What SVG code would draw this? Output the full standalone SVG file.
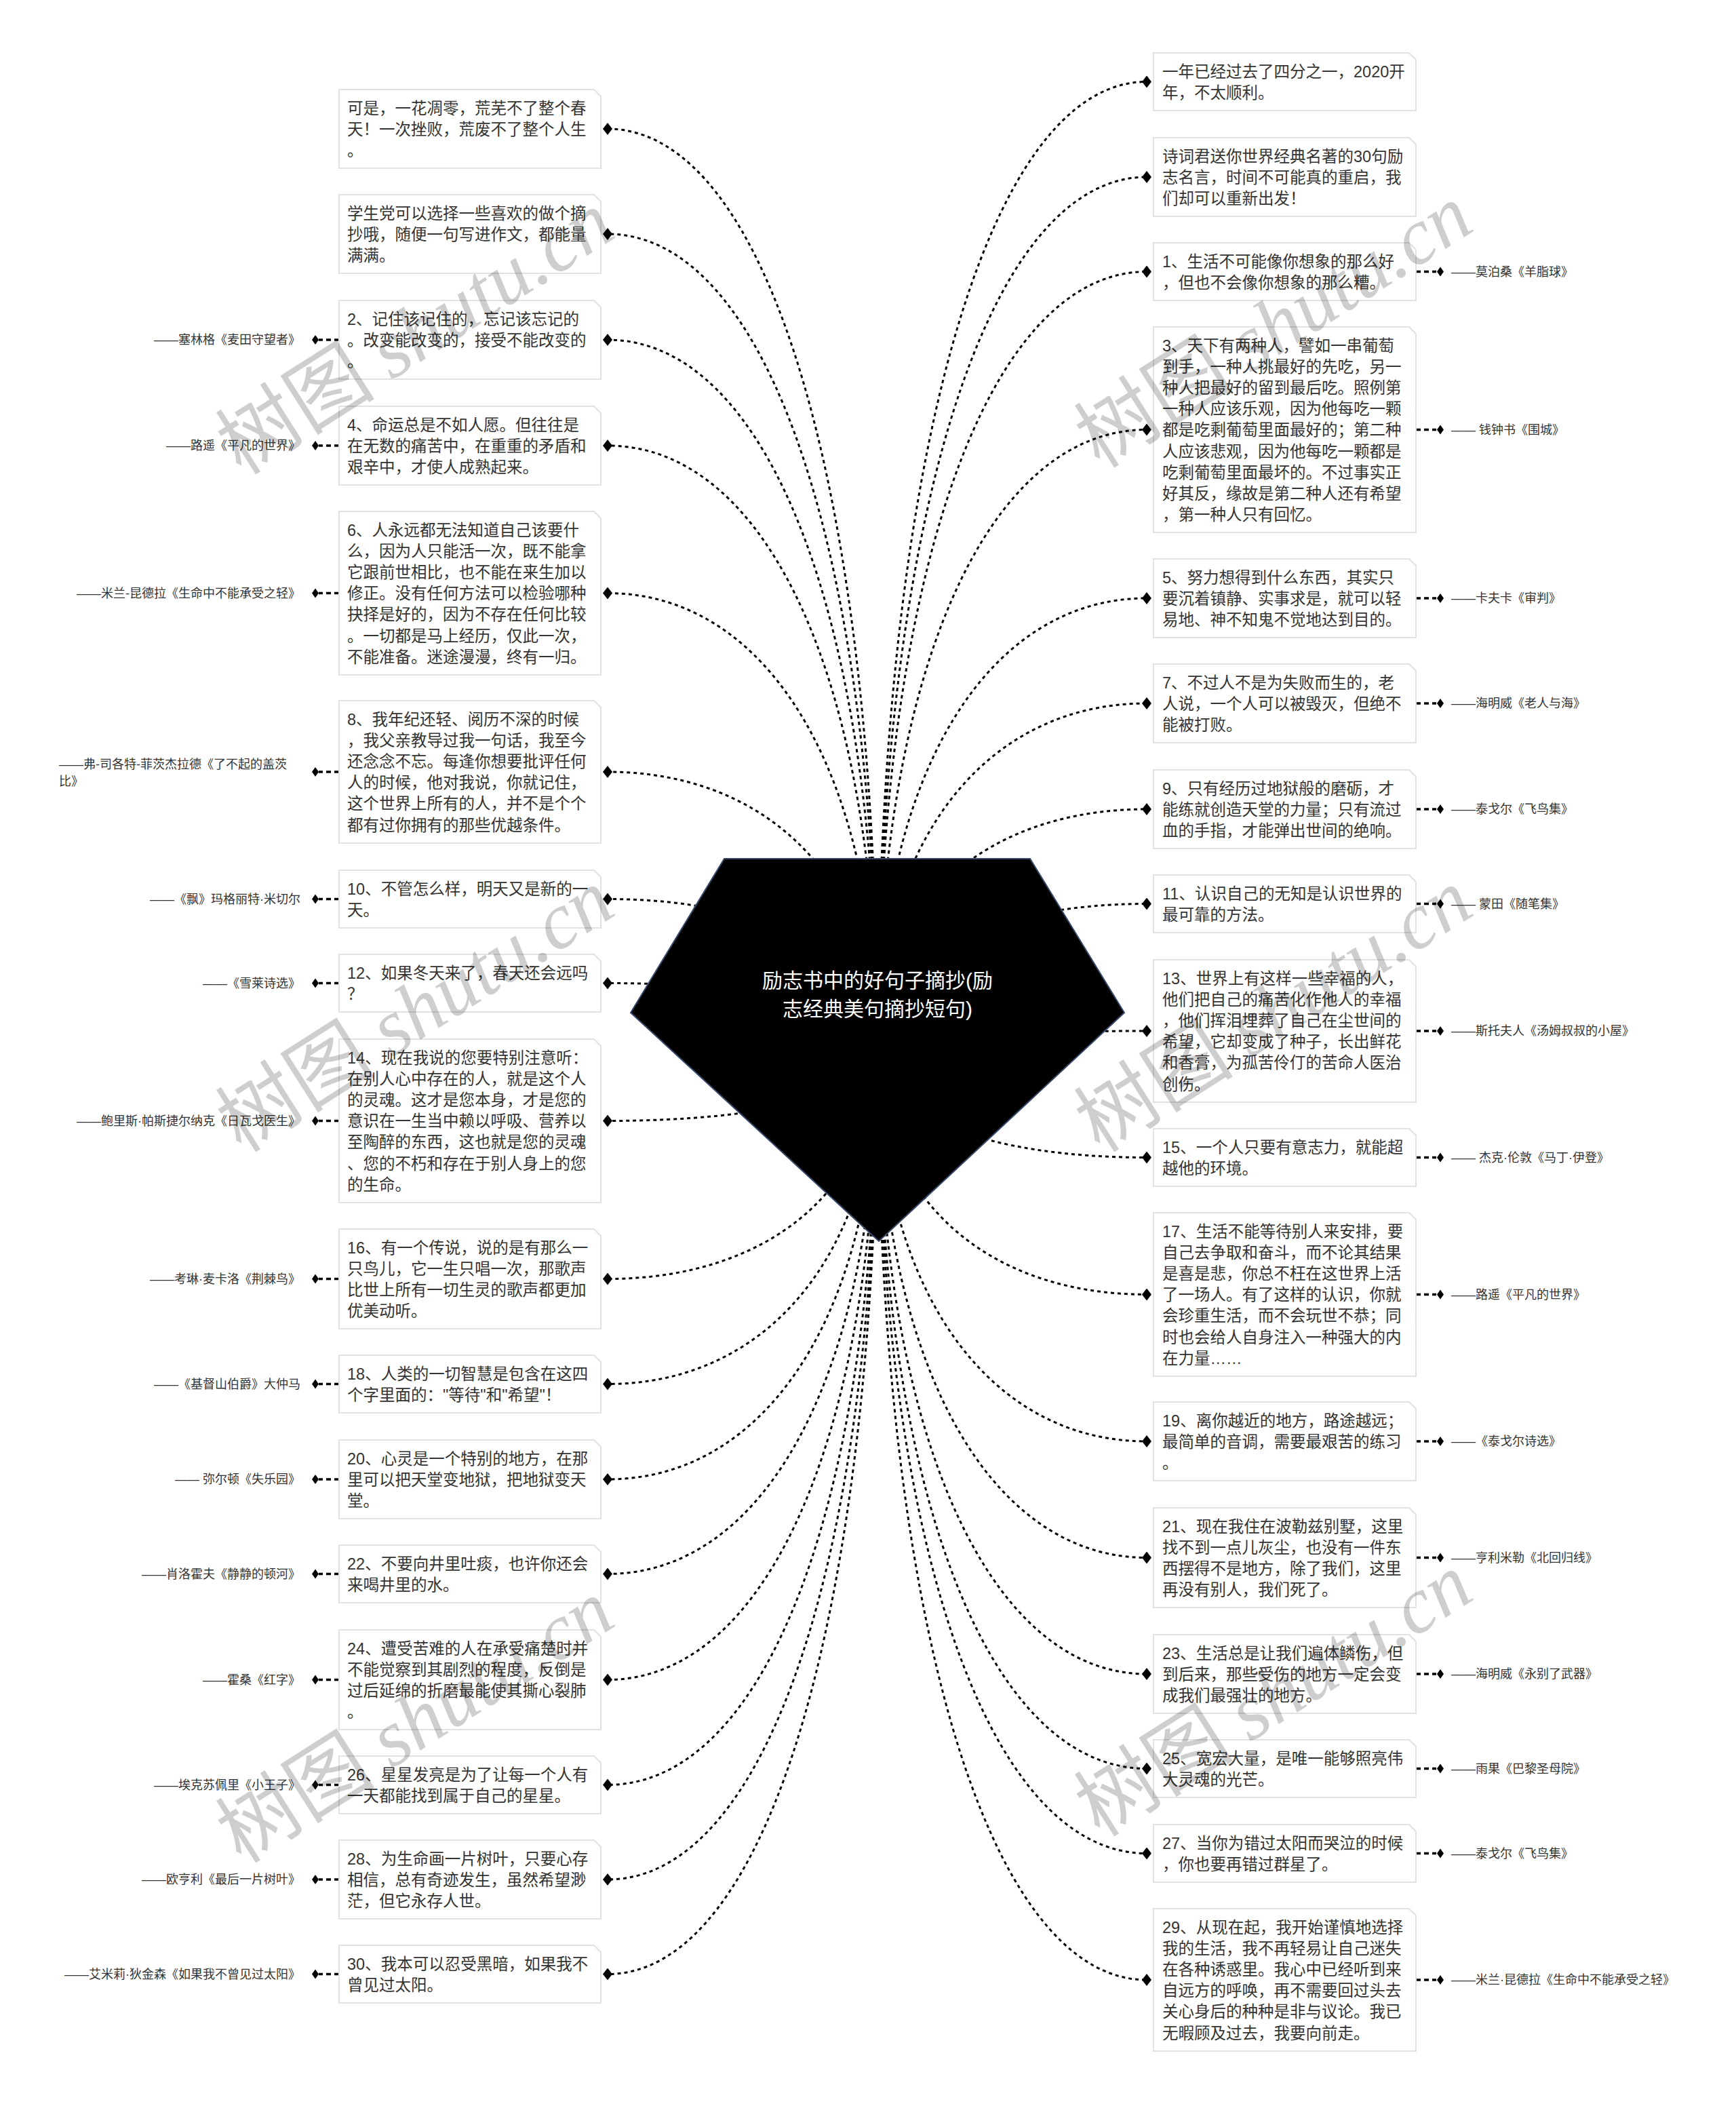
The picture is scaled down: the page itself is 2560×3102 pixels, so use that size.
<svg xmlns="http://www.w3.org/2000/svg" width="2560" height="3102" viewBox="0 0 2560 3102">
<style>
.box{fill:#fff;stroke:#e2e2e2;stroke-width:2}
.t{font-family:"Liberation Sans","Noto Sans CJK SC",sans-serif;font-size:23.5px;fill:#333}
.lb{font-family:"Liberation Sans","Noto Sans CJK SC",sans-serif;font-size:18px;fill:#333}
.lbr{font-family:"Liberation Sans","Noto Sans CJK SC",sans-serif;font-size:18px;fill:#333;text-anchor:end}
.c{fill:none;stroke:#000;stroke-width:3;stroke-dasharray:5 5}
.s{fill:none;stroke:#000;stroke-width:3.5;stroke-dasharray:7 5}
.d{fill:#000}
.wm{font-size:118px;fill:#000;opacity:0.19}
</style>
<defs>
<marker id="dm" viewBox="-7 -9 14 18" markerWidth="14" markerHeight="18" markerUnits="userSpaceOnUse" refX="0" refY="0" orient="auto"><path d="M-7,0 L0,-9 L7,0 L0,9 Z" fill="#000"/></marker>
<path id="sd" d="M-5,0 L0,-7 L5,0 L0,7 Z"/>
</defs>
<rect width="2560" height="3102" fill="#fff"/>

<g id="connectors">
<path class="c" marker-end="url(#dm)" d="M1294,1548 C1294,733 1135,190 896,190"/>
<path class="c" marker-end="url(#dm)" d="M1294,1548 C1294,826 1135,345 896,345"/>
<path class="c" marker-end="url(#dm)" d="M1294,1548 C1294,920 1135,501 896,501"/>
<path class="c" marker-end="url(#dm)" d="M1294,1548 C1294,1013 1135,657 896,657"/>
<path class="c" marker-end="url(#dm)" d="M1294,1548 C1294,1144 1135,874.5 896,874.5"/>
<path class="c" marker-end="url(#dm)" d="M1294,1548 C1294,1302 1135,1138 896,1138"/>
<path class="c" marker-end="url(#dm)" d="M1294,1548 C1294,1414.5 1135,1325.5 896,1325.5"/>
<path class="c" marker-end="url(#dm)" d="M1294,1548 C1294,1489 1135,1449.5 896,1449.5"/>
<path class="c" marker-end="url(#dm)" d="M1294,1548 C1294,1611 1135,1652.5 896,1652.5"/>
<path class="c" marker-end="url(#dm)" d="M1294,1548 C1294,1750.5 1135,1885.5 896,1885.5"/>
<path class="c" marker-end="url(#dm)" d="M1294,1548 C1294,1843.5 1135,2040.5 896,2040.5"/>
<path class="c" marker-end="url(#dm)" d="M1294,1548 C1294,1928 1135,2181 896,2181"/>
<path class="c" marker-end="url(#dm)" d="M1294,1548 C1294,2011.5 1135,2320.5 896,2320.5"/>
<path class="c" marker-end="url(#dm)" d="M1294,1548 C1294,2105 1135,2476.5 896,2476.5"/>
<path class="c" marker-end="url(#dm)" d="M1294,1548 C1294,2198 1135,2631.5 896,2631.5"/>
<path class="c" marker-end="url(#dm)" d="M1294,1548 C1294,2282 1135,2771 896,2771"/>
<path class="c" marker-end="url(#dm)" d="M1294,1548 C1294,2365.5 1135,2910.5 896,2910.5"/>

<path class="c" marker-end="url(#dm)" d="M1294,1548 C1294,691.5 1453,120.5 1691,120.5"/>
<path class="c" marker-end="url(#dm)" d="M1294,1548 C1294,776 1453,261 1691,261"/>
<path class="c" marker-end="url(#dm)" d="M1294,1548 C1294,859.5 1453,400.5 1691,400.5"/>
<path class="c" marker-end="url(#dm)" d="M1294,1548 C1294,999 1453,633.5 1691,633.5"/>
<path class="c" marker-end="url(#dm)" d="M1294,1548 C1294,1148 1453,882 1691,882"/>
<path class="c" marker-end="url(#dm)" d="M1294,1548 C1294,1241 1453,1037 1691,1037"/>
<path class="c" marker-end="url(#dm)" d="M1294,1548 C1294,1335 1453,1193 1691,1193"/>
<path class="c" marker-end="url(#dm)" d="M1294,1548 C1294,1419 1453,1332.5 1691,1332.5"/>
<path class="c" marker-end="url(#dm)" d="M1294,1548 C1294,1531 1453,1520 1691,1520"/>
<path class="c" marker-end="url(#dm)" d="M1294,1548 C1294,1643 1453,1706.5 1691,1706.5"/>
<path class="c" marker-end="url(#dm)" d="M1294,1548 C1294,1764 1453,1908.5 1691,1908.5"/>
<path class="c" marker-end="url(#dm)" d="M1294,1548 C1294,1894 1453,2125 1691,2125"/>
<path class="c" marker-end="url(#dm)" d="M1294,1548 C1294,1997 1453,2296.5 1691,2296.5"/>
<path class="c" marker-end="url(#dm)" d="M1294,1548 C1294,2100 1453,2468 1691,2468"/>
<path class="c" marker-end="url(#dm)" d="M1294,1548 C1294,2184 1453,2607.5 1691,2607.5"/>
<path class="c" marker-end="url(#dm)" d="M1294,1548 C1294,2259 1453,2732.5 1691,2732.5"/>
<path class="c" marker-end="url(#dm)" d="M1294,1548 C1294,2370.5 1453,2919 1691,2919"/>

<path class="s" d="M500,501 H470 M500,657 H470 M500,874.5 H470 M500,1138 H470 M500,1325.5 H470 M500,1449.5 H470 M500,1652.5 H470 M500,1885.5 H470 M500,2040.5 H470 M500,2181 H470 M500,2320.5 H470 M500,2476.5 H470 M500,2631.5 H470 M500,2771 H470 M500,2910.5 H470"/>
<path class="s" d="M2088,400.5 H2118 M2088,633.5 H2118 M2088,882 H2118 M2088,1037 H2118 M2088,1193 H2118 M2088,1332.5 H2118 M2088,1520 H2118 M2088,1706.5 H2118 M2088,1908.5 H2118 M2088,2125 H2118 M2088,2296.5 H2118 M2088,2468 H2118 M2088,2607.5 H2118 M2088,2732.5 H2118 M2088,2919 H2118"/>
<g class="d">
<use href="#sd" x="465" y="501"/><use href="#sd" x="465" y="657"/><use href="#sd" x="465" y="874.5"/><use href="#sd" x="465" y="1138"/><use href="#sd" x="465" y="1325.5"/><use href="#sd" x="465" y="1449.5"/><use href="#sd" x="465" y="1652.5"/><use href="#sd" x="465" y="1885.5"/><use href="#sd" x="465" y="2040.5"/><use href="#sd" x="465" y="2181"/><use href="#sd" x="465" y="2320.5"/><use href="#sd" x="465" y="2476.5"/><use href="#sd" x="465" y="2631.5"/><use href="#sd" x="465" y="2771"/><use href="#sd" x="465" y="2910.5"/>
<use href="#sd" x="2124" y="400.5"/><use href="#sd" x="2124" y="633.5"/><use href="#sd" x="2124" y="882"/><use href="#sd" x="2124" y="1037"/><use href="#sd" x="2124" y="1193"/><use href="#sd" x="2124" y="1332.5"/><use href="#sd" x="2124" y="1520"/><use href="#sd" x="2124" y="1706.5"/><use href="#sd" x="2124" y="1908.5"/><use href="#sd" x="2124" y="2125"/><use href="#sd" x="2124" y="2296.5"/><use href="#sd" x="2124" y="2468"/><use href="#sd" x="2124" y="2607.5"/><use href="#sd" x="2124" y="2732.5"/><use href="#sd" x="2124" y="2919"/>
</g>
</g>

<g id="root">
<path d="M1068,1266 H1519 L1658,1493 L1296,1830 L930,1493 Z" fill="#000" stroke="#3a4a6a" stroke-width="2"/>
<text x="1294" y="1456" text-anchor="middle" font-family="Liberation Sans, Noto Sans CJK SC, sans-serif" font-size="30" fill="#fff"><tspan x="1294">励志书中的好句子摘抄(励</tspan><tspan x="1294" dy="42">志经典美句摘抄短句)</tspan></text>
</g>

<g id="nA"><path class="box" d="M500,132 H876 L886,142 V248 H500 Z"/><text class="t" x="512" y="167.5"><tspan x="512">可是，一花凋零，荒芜不了整个春</tspan><tspan x="512" dy="31.2">天！一次挫败，荒废不了整个人生</tspan><tspan x="512" dy="31.2">。</tspan></text></g>
<g id="nB"><path class="box" d="M500,287 H876 L886,297 V403 H500 Z"/><text class="t" x="512" y="322.5"><tspan x="512">学生党可以选择一些喜欢的做个摘</tspan><tspan x="512" dy="31.2">抄哦，随便一句写进作文，都能量</tspan><tspan x="512" dy="31.2">满满。</tspan></text></g>
<g id="nC"><path class="box" d="M500,443 H876 L886,453 V559 H500 Z"/><text class="t" x="512" y="478.5"><tspan x="512">2、记住该记住的，忘记该忘记的</tspan><tspan x="512" dy="31.2">。改变能改变的，接受不能改变的</tspan><tspan x="512" dy="31.2">。</tspan></text><text class="lbr" x="443" y="507">——塞林格《麦田守望者》</text></g>
<g id="nD"><path class="box" d="M500,599 H876 L886,609 V715 H500 Z"/><text class="t" x="512" y="634.5"><tspan x="512">4、命运总是不如人愿。但往往是</tspan><tspan x="512" dy="31.2">在无数的痛苦中，在重重的矛盾和</tspan><tspan x="512" dy="31.2">艰辛中，才使人成熟起来。</tspan></text><text class="lbr" x="443" y="663">——路遥《平凡的世界》</text></g>
<g id="nE"><path class="box" d="M500,754 H876 L886,764 V995 H500 Z"/><text class="t" x="512" y="789.5"><tspan x="512">6、人永远都无法知道自己该要什</tspan><tspan x="512" dy="31.2">么，因为人只能活一次，既不能拿</tspan><tspan x="512" dy="31.2">它跟前世相比，也不能在来生加以</tspan><tspan x="512" dy="31.2">修正。没有任何方法可以检验哪种</tspan><tspan x="512" dy="31.2">抉择是好的，因为不存在任何比较</tspan><tspan x="512" dy="31.2">。一切都是马上经历，仅此一次，</tspan><tspan x="512" dy="31.2">不能准备。迷途漫漫，终有一归。</tspan></text><text class="lbr" x="443" y="880.5">——米兰-昆德拉《生命中不能承受之轻》</text></g>
<g id="nF"><path class="box" d="M500,1033 H876 L886,1043 V1243 H500 Z"/><text class="t" x="512" y="1068.5"><tspan x="512">8、我年纪还轻、阅历不深的时候</tspan><tspan x="512" dy="31.2">，我父亲教导过我一句话，我至今</tspan><tspan x="512" dy="31.2">还念念不忘。每逢你想要批评任何</tspan><tspan x="512" dy="31.2">人的时候，他对我说，你就记住，</tspan><tspan x="512" dy="31.2">这个世界上所有的人，并不是个个</tspan><tspan x="512" dy="31.2">都有过你拥有的那些优越条件。</tspan></text><text class="lb" x="87" y="1133"><tspan x="87">——弗-司各特-菲茨杰拉德《了不起的盖茨</tspan><tspan x="87" dy="25">比》</tspan></text></g>
<g id="nG"><path class="box" d="M500,1283 H876 L886,1293 V1368 H500 Z"/><text class="t" x="512" y="1318.5"><tspan x="512">10、不管怎么样，明天又是新的一</tspan><tspan x="512" dy="31.2">天。</tspan></text><text class="lbr" x="443" y="1331.5">——《飘》玛格丽特·米切尔</text></g>
<g id="nH"><path class="box" d="M500,1407 H876 L886,1417 V1492 H500 Z"/><text class="t" x="512" y="1442.5"><tspan x="512">12、如果冬天来了，春天还会远吗</tspan><tspan x="512" dy="31.2">？</tspan></text><text class="lbr" x="443" y="1455.5">——《雪莱诗选》</text></g>
<g id="nI"><path class="box" d="M500,1532 H876 L886,1542 V1773 H500 Z"/><text class="t" x="512" y="1567.5"><tspan x="512">14、现在我说的您要特别注意听：</tspan><tspan x="512" dy="31.2">在别人心中存在的人，就是这个人</tspan><tspan x="512" dy="31.2">的灵魂。这才是您本身，才是您的</tspan><tspan x="512" dy="31.2">意识在一生当中赖以呼吸、营养以</tspan><tspan x="512" dy="31.2">至陶醉的东西，这也就是您的灵魂</tspan><tspan x="512" dy="31.2">、您的不朽和存在于别人身上的您</tspan><tspan x="512" dy="31.2">的生命。</tspan></text><text class="lbr" x="443" y="1658.5">——鲍里斯·帕斯捷尔纳克《日瓦戈医生》</text></g>
<g id="nJ"><path class="box" d="M500,1812 H876 L886,1822 V1959 H500 Z"/><text class="t" x="512" y="1847.5"><tspan x="512">16、有一个传说，说的是有那么一</tspan><tspan x="512" dy="31.2">只鸟儿，它一生只唱一次，那歌声</tspan><tspan x="512" dy="31.2">比世上所有一切生灵的歌声都更加</tspan><tspan x="512" dy="31.2">优美动听。</tspan></text><text class="lbr" x="443" y="1891.5">——考琳·麦卡洛《荆棘鸟》</text></g>
<g id="nK"><path class="box" d="M500,1998 H876 L886,2008 V2083 H500 Z"/><text class="t" x="512" y="2033.5"><tspan x="512">18、人类的一切智慧是包含在这四</tspan><tspan x="512" dy="31.2">个字里面的："等待"和"希望"！</tspan></text><text class="lbr" x="443" y="2046.5">——《基督山伯爵》大仲马</text></g>
<g id="nL"><path class="box" d="M500,2123 H876 L886,2133 V2239 H500 Z"/><text class="t" x="512" y="2158.5"><tspan x="512">20、心灵是一个特别的地方，在那</tspan><tspan x="512" dy="31.2">里可以把天堂变地狱，把地狱变天</tspan><tspan x="512" dy="31.2">堂。</tspan></text><text class="lbr" x="443" y="2187">—— 弥尔顿《失乐园》</text></g>
<g id="nM"><path class="box" d="M500,2278 H876 L886,2288 V2363 H500 Z"/><text class="t" x="512" y="2313.5"><tspan x="512">22、不要向井里吐痰，也许你还会</tspan><tspan x="512" dy="31.2">来喝井里的水。</tspan></text><text class="lbr" x="443" y="2326.5">——肖洛霍夫《静静的顿河》</text></g>
<g id="nN"><path class="box" d="M500,2403 H876 L886,2413 V2550 H500 Z"/><text class="t" x="512" y="2438.5"><tspan x="512">24、遭受苦难的人在承受痛楚时并</tspan><tspan x="512" dy="31.2">不能觉察到其剧烈的程度，反倒是</tspan><tspan x="512" dy="31.2">过后延绵的折磨最能使其撕心裂肺</tspan><tspan x="512" dy="31.2">。</tspan></text><text class="lbr" x="443" y="2482.5">——霍桑《红字》</text></g>
<g id="nO"><path class="box" d="M500,2589 H876 L886,2599 V2674 H500 Z"/><text class="t" x="512" y="2624.5"><tspan x="512">26、星星发亮是为了让每一个人有</tspan><tspan x="512" dy="31.2">一天都能找到属于自己的星星。</tspan></text><text class="lbr" x="443" y="2637.5">——埃克苏佩里《小王子》</text></g>
<g id="nP"><path class="box" d="M500,2713 H876 L886,2723 V2829 H500 Z"/><text class="t" x="512" y="2748.5"><tspan x="512">28、为生命画一片树叶，只要心存</tspan><tspan x="512" dy="31.2">相信，总有奇迹发生，虽然希望渺</tspan><tspan x="512" dy="31.2">茫，但它永存人世。</tspan></text><text class="lbr" x="443" y="2777">——欧亨利《最后一片树叶》</text></g>
<g id="nQ"><path class="box" d="M500,2868 H876 L886,2878 V2953 H500 Z"/><text class="t" x="512" y="2903.5"><tspan x="512">30、我本可以忍受黑暗，如果我不</tspan><tspan x="512" dy="31.2">曾见过太阳。</tspan></text><text class="lbr" x="443" y="2916.5">——艾米莉·狄金森《如果我不曾见过太阳》</text></g>

<g id="r1"><path class="box" d="M1701,78 H2078 L2088,88 V163 H1701 Z"/><text class="t" x="1714" y="113.5"><tspan x="1714">一年已经过去了四分之一，2020开</tspan><tspan x="1714" dy="31.2">年，不太顺利。</tspan></text></g>
<g id="r2"><path class="box" d="M1701,203 H2078 L2088,213 V319 H1701 Z"/><text class="t" x="1714" y="238.5"><tspan x="1714">诗词君送你世界经典名著的30句励</tspan><tspan x="1714" dy="31.2">志名言，时间不可能真的重启，我</tspan><tspan x="1714" dy="31.2">们却可以重新出发！</tspan></text></g>
<g id="r3"><path class="box" d="M1701,358 H2078 L2088,368 V443 H1701 Z"/><text class="t" x="1714" y="393.5"><tspan x="1714">1、生活不可能像你想象的那么好</tspan><tspan x="1714" dy="31.2">，但也不会像你想象的那么糟。</tspan></text><text class="lb" x="2140" y="406.5">——莫泊桑《羊脂球》</text></g>
<g id="r4"><path class="box" d="M1701,482 H2078 L2088,492 V785 H1701 Z"/><text class="t" x="1714" y="517.5"><tspan x="1714">3、天下有两种人，譬如一串葡萄</tspan><tspan x="1714" dy="31.2">到手，一种人挑最好的先吃，另一</tspan><tspan x="1714" dy="31.2">种人把最好的留到最后吃。照例第</tspan><tspan x="1714" dy="31.2">一种人应该乐观，因为他每吃一颗</tspan><tspan x="1714" dy="31.2">都是吃剩葡萄里面最好的；第二种</tspan><tspan x="1714" dy="31.2">人应该悲观，因为他每吃一颗都是</tspan><tspan x="1714" dy="31.2">吃剩葡萄里面最坏的。不过事实正</tspan><tspan x="1714" dy="31.2">好其反，缘故是第二种人还有希望</tspan><tspan x="1714" dy="31.2">，第一种人只有回忆。</tspan></text><text class="lb" x="2140" y="639.5">—— 钱钟书《围城》</text></g>
<g id="r5"><path class="box" d="M1701,824 H2078 L2088,834 V940 H1701 Z"/><text class="t" x="1714" y="859.5"><tspan x="1714">5、努力想得到什么东西，其实只</tspan><tspan x="1714" dy="31.2">要沉着镇静、实事求是，就可以轻</tspan><tspan x="1714" dy="31.2">易地、神不知鬼不觉地达到目的。</tspan></text><text class="lb" x="2140" y="888">——卡夫卡《审判》</text></g>
<g id="r6"><path class="box" d="M1701,979 H2078 L2088,989 V1095 H1701 Z"/><text class="t" x="1714" y="1014.5"><tspan x="1714">7、不过人不是为失败而生的，老</tspan><tspan x="1714" dy="31.2">人说，一个人可以被毁灭，但绝不</tspan><tspan x="1714" dy="31.2">能被打败。</tspan></text><text class="lb" x="2140" y="1043">——海明威《老人与海》</text></g>
<g id="r7"><path class="box" d="M1701,1135 H2078 L2088,1145 V1251 H1701 Z"/><text class="t" x="1714" y="1170.5"><tspan x="1714">9、只有经历过地狱般的磨砺，才</tspan><tspan x="1714" dy="31.2">能练就创造天堂的力量；只有流过</tspan><tspan x="1714" dy="31.2">血的手指，才能弹出世间的绝响。</tspan></text><text class="lb" x="2140" y="1199">——泰戈尔《飞鸟集》</text></g>
<g id="r8"><path class="box" d="M1701,1290 H2078 L2088,1300 V1375 H1701 Z"/><text class="t" x="1714" y="1325.5"><tspan x="1714">11、认识自己的无知是认识世界的</tspan><tspan x="1714" dy="31.2">最可靠的方法。</tspan></text><text class="lb" x="2140" y="1338.5">—— 蒙田《随笔集》</text></g>
<g id="r9"><path class="box" d="M1701,1415 H2078 L2088,1425 V1625 H1701 Z"/><text class="t" x="1714" y="1450.5"><tspan x="1714">13、世界上有这样一些幸福的人，</tspan><tspan x="1714" dy="31.2">他们把自己的痛苦化作他人的幸福</tspan><tspan x="1714" dy="31.2">，他们挥泪埋葬了自己在尘世间的</tspan><tspan x="1714" dy="31.2">希望，它却变成了种子，长出鲜花</tspan><tspan x="1714" dy="31.2">和香膏，为孤苦伶仃的苦命人医治</tspan><tspan x="1714" dy="31.2">创伤。</tspan></text><text class="lb" x="2140" y="1526">——斯托夫人《汤姆叔叔的小屋》</text></g>
<g id="r10"><path class="box" d="M1701,1664 H2078 L2088,1674 V1749 H1701 Z"/><text class="t" x="1714" y="1699.5"><tspan x="1714">15、一个人只要有意志力，就能超</tspan><tspan x="1714" dy="31.2">越他的环境。</tspan></text><text class="lb" x="2140" y="1712.5">—— 杰克·伦敦《马丁·伊登》</text></g>
<g id="r11"><path class="box" d="M1701,1788 H2078 L2088,1798 V2029 H1701 Z"/><text class="t" x="1714" y="1823.5"><tspan x="1714">17、生活不能等待别人来安排，要</tspan><tspan x="1714" dy="31.2">自己去争取和奋斗，而不论其结果</tspan><tspan x="1714" dy="31.2">是喜是悲，你总不枉在这世界上活</tspan><tspan x="1714" dy="31.2">了一场人。有了这样的认识，你就</tspan><tspan x="1714" dy="31.2">会珍重生活，而不会玩世不恭；同</tspan><tspan x="1714" dy="31.2">时也会给人自身注入一种强大的内</tspan><tspan x="1714" dy="31.2">在力量……</tspan></text><text class="lb" x="2140" y="1914.5">——路遥《平凡的世界》</text></g>
<g id="r12"><path class="box" d="M1701,2067 H2078 L2088,2077 V2183 H1701 Z"/><text class="t" x="1714" y="2102.5"><tspan x="1714">19、离你越近的地方，路途越远；</tspan><tspan x="1714" dy="31.2">最简单的音调，需要最艰苦的练习</tspan><tspan x="1714" dy="31.2">。</tspan></text><text class="lb" x="2140" y="2131">——《泰戈尔诗选》</text></g>
<g id="r13"><path class="box" d="M1701,2223 H2078 L2088,2233 V2370 H1701 Z"/><text class="t" x="1714" y="2258.5"><tspan x="1714">21、现在我住在波勒兹别墅，这里</tspan><tspan x="1714" dy="31.2">找不到一点儿灰尘，也没有一件东</tspan><tspan x="1714" dy="31.2">西摆得不是地方，除了我们，这里</tspan><tspan x="1714" dy="31.2">再没有别人，我们死了。</tspan></text><text class="lb" x="2140" y="2302.5">——亨利米勒《北回归线》</text></g>
<g id="r14"><path class="box" d="M1701,2410 H2078 L2088,2420 V2526 H1701 Z"/><text class="t" x="1714" y="2445.5"><tspan x="1714">23、生活总是让我们遍体鳞伤，但</tspan><tspan x="1714" dy="31.2">到后来，那些受伤的地方一定会变</tspan><tspan x="1714" dy="31.2">成我们最强壮的地方。</tspan></text><text class="lb" x="2140" y="2474">——海明威《永别了武器》</text></g>
<g id="r15"><path class="box" d="M1701,2565 H2078 L2088,2575 V2650 H1701 Z"/><text class="t" x="1714" y="2600.5"><tspan x="1714">25、宽宏大量，是唯一能够照亮伟</tspan><tspan x="1714" dy="31.2">大灵魂的光芒。</tspan></text><text class="lb" x="2140" y="2613.5">——雨果《巴黎圣母院》</text></g>
<g id="r16"><path class="box" d="M1701,2690 H2078 L2088,2700 V2775 H1701 Z"/><text class="t" x="1714" y="2725.5"><tspan x="1714">27、当你为错过太阳而哭泣的时候</tspan><tspan x="1714" dy="31.2">，你也要再错过群星了。</tspan></text><text class="lb" x="2140" y="2738.5">——泰戈尔《飞鸟集》</text></g>
<g id="r17"><path class="box" d="M1701,2814 H2078 L2088,2824 V3024 H1701 Z"/><text class="t" x="1714" y="2849.5"><tspan x="1714">29、从现在起，我开始谨慎地选择</tspan><tspan x="1714" dy="31.2">我的生活，我不再轻易让自己迷失</tspan><tspan x="1714" dy="31.2">在各种诱惑里。我心中已经听到来</tspan><tspan x="1714" dy="31.2">自远方的呼唤，再不需要回过头去</tspan><tspan x="1714" dy="31.2">关心身后的种种是非与议论。我已</tspan><tspan x="1714" dy="31.2">无暇顾及过去，我要向前走。</tspan></text><text class="lb" x="2140" y="2925">——米兰·昆德拉《生命中不能承受之轻》</text></g>

<g id="watermarks">
<text class="wm" transform="translate(356,702) rotate(-32.5)"><tspan font-family="Noto Sans CJK SC, sans-serif">树图 </tspan><tspan font-family="Liberation Serif, serif" font-style="italic">shutu.cn</tspan></text>
<text class="wm" transform="translate(1622,692) rotate(-32.5)"><tspan font-family="Noto Sans CJK SC, sans-serif">树图 </tspan><tspan font-family="Liberation Serif, serif" font-style="italic">shutu.cn</tspan></text>
<text class="wm" transform="translate(356,1701) rotate(-32.5)"><tspan font-family="Noto Sans CJK SC, sans-serif">树图 </tspan><tspan font-family="Liberation Serif, serif" font-style="italic">shutu.cn</tspan></text>
<text class="wm" transform="translate(1622,1701) rotate(-32.5)"><tspan font-family="Noto Sans CJK SC, sans-serif">树图 </tspan><tspan font-family="Liberation Serif, serif" font-style="italic">shutu.cn</tspan></text>
<text class="wm" transform="translate(356,2749) rotate(-32.5)"><tspan font-family="Noto Sans CJK SC, sans-serif">树图 </tspan><tspan font-family="Liberation Serif, serif" font-style="italic">shutu.cn</tspan></text>
<text class="wm" transform="translate(1622,2710) rotate(-32.5)"><tspan font-family="Noto Sans CJK SC, sans-serif">树图 </tspan><tspan font-family="Liberation Serif, serif" font-style="italic">shutu.cn</tspan></text>
</g>
</svg>
